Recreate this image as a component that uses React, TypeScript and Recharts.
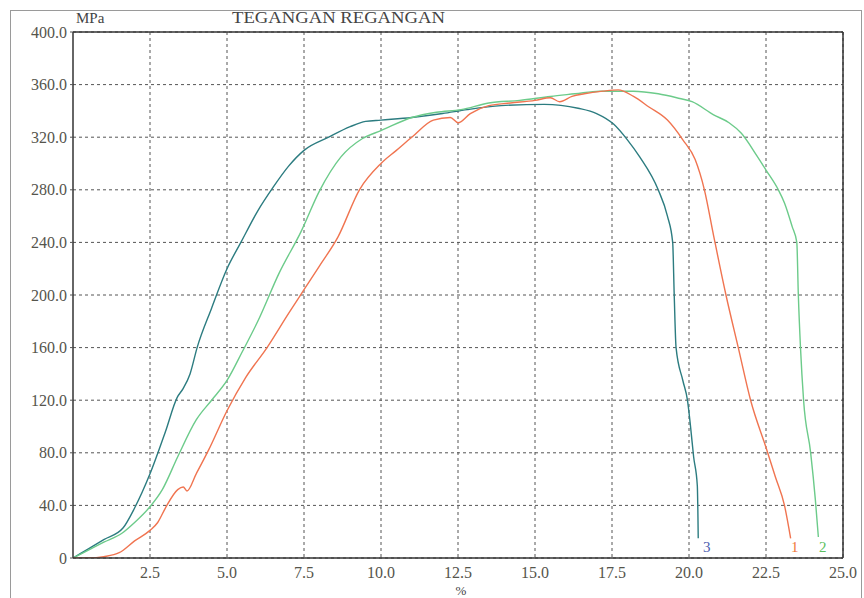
import { CartesianGrid, Customized, Line, LineChart, ReferenceLine, XAxis, YAxis } from "recharts";

// curve 1 (orange)
const strain1 = [0, 0.5, 1.0, 1.5, 2.0, 2.5, 2.75, 3.0, 3.4, 3.58, 3.7, 4.0, 4.4, 5.0, 5.6, 6.3, 7.0, 7.5, 8.0, 8.6, 9.3, 10.0, 10.5, 11.0, 11.7, 12.25, 12.5, 12.9, 13.5, 14.2, 15.0, 15.5, 15.8, 16.2, 16.6, 17.2, 17.7, 18.2, 18.7, 19.3, 19.8, 20.2, 20.5, 20.8, 21.2, 21.6, 22.0, 22.5, 22.8, 23.1, 23.3];
const stress1 = [0, 0, 1, 4, 13, 21, 27, 38, 52, 54, 51, 64, 82, 112, 137, 160, 186, 204, 222, 244, 280, 300, 310, 320, 333, 335, 331, 338, 344, 346, 348, 350, 347, 351, 353, 355, 356, 351, 343, 333, 318, 303, 280, 245, 200, 160, 120, 84, 62, 40, 15];

// curve 2 (green)
const strain2 = [0, 0.5, 1.0, 1.6, 2.0, 2.5, 2.9, 3.4, 4.0, 4.5, 5.0, 5.5, 6.0, 6.7, 7.4, 8.0, 8.7, 9.4, 10.0, 11.0, 11.8, 12.6, 13.5, 14.5, 15.5, 16.3, 17.1, 18.2, 19.0, 19.6, 20.1, 20.8, 21.3, 21.7, 22.2, 22.5, 22.9, 23.1, 23.35, 23.5, 23.55, 23.62, 23.72, 23.95, 24.1, 24.2];
const stress2 = [0, 6, 12, 19, 27, 39, 52, 77, 105, 120, 135, 157, 180, 217, 248, 279, 305, 319, 325, 335, 339, 341, 346, 348, 351, 353, 355, 355, 353, 350, 347, 337, 331, 323, 306, 295, 280, 270, 252, 240, 200, 160, 120, 80, 45, 16];

// curve 3 (teal)
const strain3 = [0, 0.5, 1.0, 1.63, 2.0, 2.5, 3.0, 3.38, 3.58, 3.8, 4.03, 4.5, 5.0, 5.45, 6.0, 6.5, 7.0, 7.5, 8.3, 9.0, 9.5, 10.0, 11.0, 12.0, 12.8, 13.9, 15.3, 16.4, 17.0, 17.55, 18.0, 18.4, 19.0, 19.3, 19.47, 19.52, 19.58, 19.8, 19.95, 20.05, 20.15, 20.27, 20.3];
const stress3 = [0, 7, 14, 23, 38, 64, 96, 122, 129, 140, 160, 190, 220, 240, 264, 282, 298, 310, 320, 328, 332, 333, 335, 338, 341, 344, 345, 342, 338, 330, 318, 305, 280, 260, 240, 200, 160, 135, 120, 100, 77, 55, 15];

const xTicks = [2.5, 5.0, 7.5, 10.0, 12.5, 15.0, 17.5, 20.0, 22.5, 25.0];
const yTicks = [0, 40, 80, 120, 160, 200, 240, 280, 320, 360, 400];

const toPoints = (xs: number[], ys: number[]) => xs.map((x, i) => ({ x, y: ys[i] }));

const data1 = toPoints(strain1, stress1);
const data2 = toPoints(strain2, stress2);
const data3 = toPoints(strain3, stress3);

const textColor = "#55554c";
const font = "'Liberation Serif', 'DejaVu Serif', serif";

const YTick = ({ x, y, payload }: any) => (
  <text x={x - 1} y={y} textAnchor="end" dominantBaseline="central" fill={textColor} fontSize={16} fontFamily={font}>
    {payload.value === 0 ? "0" : Number(payload.value).toFixed(1)}
  </text>
);

const XTick = ({ x, y, payload }: any) => (
  <text x={x} y={y + 12} textAnchor="middle" fill={textColor} fontSize={16} fontFamily={font}>
    {Number(payload.value).toFixed(1)}
  </text>
);

const Annotations = () => (
  <g fontFamily={font}>
    <text x={76} y={23} fontSize={15} fill="#444">MPa</text>
    <text x={232} y={23} fontSize={17} fill="#444" textLength={213} lengthAdjust="spacingAndGlyphs">
      TEGANGAN REGANGAN
    </text>
    <text x={461} y={595} fontSize={13} fill="#444" textAnchor="middle">%</text>
    <text x={703} y={552} fontSize={15} fill="#5060b0">3</text>
    <text x={791} y={552} fontSize={15} fill="#f07a3c">1</text>
    <text x={819} y={552} fontSize={15} fill="#5cc060">2</text>
  </g>
);

export default function App() {
  return (
    <div style={{ position: "absolute", left: 0, top: 0, width: 864, height: 598, overflow: "hidden", background: "#fff" }}>
      <div
        style={{
          position: "absolute",
          left: 10,
          top: 10,
          width: 852,
          height: 600,
          border: "1px solid #9a9a9a",
          boxSizing: "border-box",
        }}
      />
      <div style={{ position: "absolute", left: 0, top: 0 }}>
        <LineChart width={864} height={598} margin={{ top: 32, right: 21, bottom: 0, left: 0 }}>
          <CartesianGrid stroke="#555" strokeDasharray="3 3" horizontalValues={yTicks} verticalValues={xTicks} />
          <XAxis
            type="number"
            dataKey="x"
            domain={[0, 25]}
            ticks={xTicks}
            allowDataOverflow
            height={40}
            tick={<XTick />}
            tickLine={false}
            axisLine={{ stroke: "#333", strokeWidth: 1.5 }}
          />
          <YAxis
            type="number"
            dataKey="y"
            domain={[0, 400]}
            ticks={yTicks}
            allowDataOverflow
            width={73}
            tick={<YTick />}
            tickSize={3}
            tickLine={{ stroke: "#555" }}
            axisLine={{ stroke: "#333", strokeWidth: 1.5 }}
          />
          <ReferenceLine y={400} stroke="#333" strokeWidth={1.5} />
          <ReferenceLine x={25} stroke="#333" strokeWidth={1.5} />
          <Line data={data3} dataKey="y" type="monotone" stroke="#2c7c80" strokeWidth={1.4} dot={false} isAnimationActive={false} />
          <Line data={data2} dataKey="y" type="monotone" stroke="#6ccb8a" strokeWidth={1.4} dot={false} isAnimationActive={false} />
          <Line data={data1} dataKey="y" type="monotone" stroke="#f07450" strokeWidth={1.4} dot={false} isAnimationActive={false} />
          <Customized component={Annotations} />
        </LineChart>
      </div>
    </div>
  );
}
